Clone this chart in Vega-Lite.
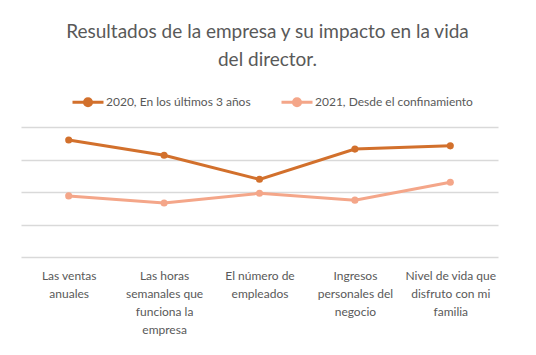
{
  "$schema": "https://vega.github.io/schema/vega-lite/v6.json",
  "width": 477,
  "height": 130,
  "autosize": "none",
  "padding": {"left": 21, "top": 127, "right": 38, "bottom": 98},
  "background": "white",
  "title": {
    "text": ["Resultados de la empresa y su impacto en la vida", "del director."],
    "fontSize": 19,
    "font": "Lato",
    "fontWeight": "normal",
    "color": "#595959",
    "anchor": "middle",
    "lineHeight": 28,
    "offset": 15,
    "dx": 8
  },
  "data": {
    "values": [
      {"cat": "Las ventas|anuales", "order": 1, "serie": "2020, En los últimos 3 años", "v": 3.6},
      {"cat": "Las horas|semanales que|funciona la|empresa", "order": 2, "serie": "2020, En los últimos 3 años", "v": 3.13},
      {"cat": "El número de|empleados", "order": 3, "serie": "2020, En los últimos 3 años", "v": 2.39},
      {"cat": "Ingresos|personales  del|negocio", "order": 4, "serie": "2020, En los últimos 3 años", "v": 3.32},
      {"cat": "Nivel de vida que|disfruto con mi|familia", "order": 5, "serie": "2020, En los últimos 3 años", "v": 3.42},
      {"cat": "Las ventas|anuales", "order": 1, "serie": "2021, Desde el confinamiento", "v": 1.88},
      {"cat": "Las horas|semanales que|funciona la|empresa", "order": 2, "serie": "2021, Desde el confinamiento", "v": 1.66},
      {"cat": "El número de|empleados", "order": 3, "serie": "2021, Desde el confinamiento", "v": 1.96},
      {"cat": "Ingresos|personales  del|negocio", "order": 4, "serie": "2021, Desde el confinamiento", "v": 1.75},
      {"cat": "Nivel de vida que|disfruto con mi|familia", "order": 5, "serie": "2021, Desde el confinamiento", "v": 2.3}
    ]
  },
  "encoding": {
    "x": {
      "field": "cat",
      "type": "nominal",
      "sort": {"field": "order"},
      "scale": {"paddingInner": 0, "paddingOuter": 0},
      "axis": {
        "title": null,
        "labelAngle": 0,
        "labelExpr": "split(datum.label, '|')",
        "labelFont": "Lato",
        "labelFontSize": 12,
        "labelColor": "#595959",
        "labelLineHeight": 18,
        "labelPadding": 13,
        "domain": false,
        "ticks": false,
        "grid": false,
        "labelLimit": 200
      }
    },
    "y": {
      "field": "v",
      "type": "quantitative",
      "scale": {"domain": [0, 4], "nice": false},
      "axis": {
        "title": null,
        "labels": false,
        "ticks": false,
        "domain": false,
        "values": [0, 1, 2, 3, 4],
        "gridColor": "#d9d9d9",
        "gridWidth": 1.3
      }
    },
    "color": {
      "field": "serie",
      "type": "nominal",
      "scale": {"range": ["#D2702C", "#F4A689"]},
      "legend": {
        "orient": "none",
        "legendX": 50,
        "legendY": -42,
        "direction": "horizontal",
        "title": null,
        "symbolType": "M-1,0L1,0M0.23,0A0.23,0.23 0 1,1 -0.23,0A0.23,0.23 0 1,1 0.23,0Z",
        "symbolSize": 961,
        "symbolStrokeWidth": 3,
        "labelFont": "Lato",
        "labelFontSize": 12,
        "labelColor": "#595959",
        "labelOffset": 1,
        "labelLimit": 300,
        "columnPadding": 24
      }
    }
  },
  "layer": [
    {"mark": {"type": "line", "strokeWidth": 3}},
    {"mark": {"type": "point", "filled": true, "size": 50, "opacity": 1}}
  ],
  "config": {"view": {"stroke": null}}
}
